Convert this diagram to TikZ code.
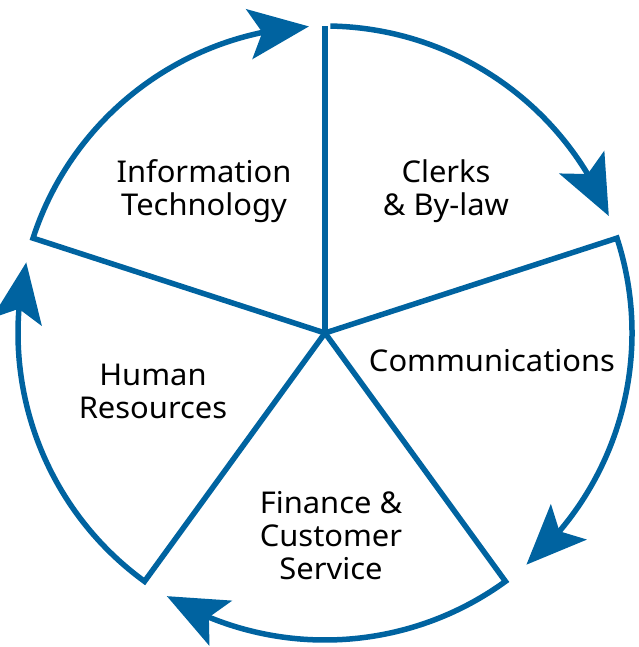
\documentclass[tikz,border=0pt]{standalone}
\usepackage{fontspec}
\setmainfont{Noto Sans}[FakeStretch=1.03]
\usetikzlibrary{arrows.meta,bending}
\definecolor{cycleblue}{RGB}{0,99,160}
\begin{document}
\begin{tikzpicture}[x=1pt,y=1pt,
  spoke/.style={draw=cycleblue, line width=5.5pt},
  cyclearc/.style={draw=cycleblue, line width=5.5pt, line join=miter,
    -{Stealth[length=60pt,width=50pt,inset=13pt,flex]}},
  lbl/.style={font=\fontsize{30}{33}\selectfont, align=center, text=black, inner sep=0pt}]
\useasboundingbox (0,0) rectangle (638,-647);
\coordinate (c) at (325,-333);
\begin{scope}[shift={(325,-333)}]
  \coordinate (p0) at (90:307);
  \coordinate (p72) at (18:307);
  \coordinate (p144) at (-54:307);
  \coordinate (p216) at (-126:307);
  \coordinate (p288) at (162:307);
  \coordinate (a0) at (89:307);
\end{scope}
% spokes with arcs
\draw[spoke] (c) -- (p0);
\draw[cyclearc] (a0) arc[start angle=89, end angle=22.4, radius=307];
\draw[cyclearc] (c) -- (p72) arc[start angle=18, end angle=-49, radius=307];
\draw[cyclearc] (c) -- (p144) arc[start angle=-54, end angle=-121, radius=307];
\draw[cyclearc] (c) -- (p216) arc[start angle=-126, end angle=-193.3, radius=307];
\draw[cyclearc] (c) -- (p288) arc[start angle=162, end angle=93, radius=307];
% labels
\node[lbl] (it) at (204,-191) {Information\\Technology};
\node[lbl] (clerks) at (446,-191) {Clerks\\\& By-law};
\node[lbl] (comm) at (492,-361) {Communications};
\node[lbl] (hr) at (153,-391) {Human\\Resources};
\node[lbl] (fin) at (331,-536) {Finance \&\\Customer\\Service};
\end{tikzpicture}
\end{document}
